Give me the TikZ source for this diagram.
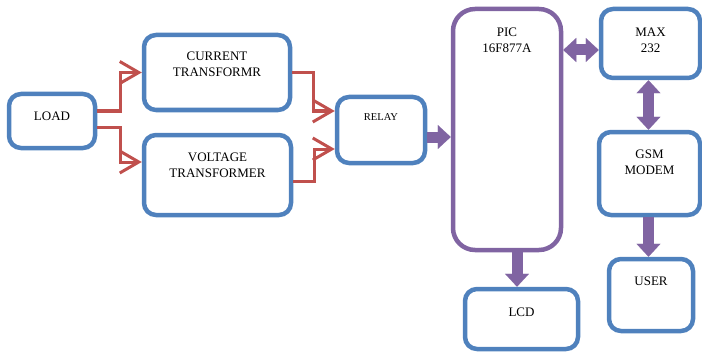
\documentclass[tikz,border=0pt]{standalone}
\usepackage{fontspec}
\setmainfont{Liberation Serif}
\usepackage{xcolor}
\usetikzlibrary{arrows.meta}
\definecolor{boxblue}{HTML}{4F81BD}
\definecolor{picpurple}{HTML}{8064A2}
\definecolor{linkred}{HTML}{C0504D}

\begin{document}
\begin{tikzpicture}[x=1pt,y=-1pt,
  blk/.style={draw=boxblue,line width=4.5pt,rounded corners=12pt,align=center,
              font=\fontsize{13}{16}\selectfont,inner sep=0pt},
  redarr/.style={linkred,line width=3pt,-{Straight Barb[length=19pt,width=22pt]}},
  busarr/.style={picpurple,line width=11pt,-{Triangle[length=13pt,width=24pt,line width=0.1pt]}},
  busdbl/.style={picpurple,line width=11pt,{Triangle[length=13pt,width=24pt,line width=0.1pt]}-{Triangle[length=13pt,width=24pt,line width=0.1pt]}}]
  \useasboundingbox (0,0) rectangle (702,353);

  \node[blk,minimum width=86pt,minimum height=54pt,text depth=10pt]   (load)  at (52,121)    {LOAD};
  \node[blk,minimum width=146pt,minimum height=75pt,text depth=17pt]  (ct)    at (217,72.5)  {CURRENT\\TRANSFORMR};
  \node[blk,minimum width=147pt,minimum height=80pt,text depth=20pt]  (vt)    at (217.5,175) {VOLTAGE\\TRANSFORMER};
  \node[blk,minimum width=88pt,minimum height=66pt,text depth=26pt,
        font=\fontsize{10.5}{13}\selectfont]                          (relay) at (381,130)   {RELAY};
  \node[blk,draw=picpurple,rounded corners=22pt,minimum width=108pt,
        minimum height=241pt,text depth=179pt]                        (pic)   at (507,129.5) {PIC\\16F877A};
  \node[blk,minimum width=99pt,minimum height=69pt,text depth=7pt]    (max)   at (650.5,43.5){MAX\\232};
  \node[blk,minimum width=101pt,minimum height=83pt,text depth=23pt]  (gsm)   at (649.5,173.5){GSM\\MODEM};
  \node[blk,minimum width=84pt,minimum height=72pt,text depth=28pt]   (user)  at (651,295)   {USER};
  \node[blk,minimum width=113pt,minimum height=60pt,text depth=14pt]  (lcd)   at (521.5,319) {LCD};

  % sensing side
  \draw[redarr] ([yshift=10pt]load.east) -- ++(23,0) |- (ct.west);
  \draw[redarr] ([yshift=-6pt]load.east) -- ++(23,0) |- ([yshift=13pt]vt.west);
  \draw[redarr] (ct.east) -- ++(21,0) |- ([yshift=19pt]relay.west);
  \draw[redarr] ([yshift=-6pt]vt.east) -- ++(21,0) |- ([yshift=-19pt]relay.west);

  % controller links
  \draw[busarr] ([yshift=-7pt]relay.east) -- ([yshift=-7pt]pic.west |- relay.east);
  \draw[busdbl] ([yshift=-6.5pt]pic.east |- max.west) -- ([yshift=-6.5pt]max.west);
  \draw[busdbl] ([xshift=-2pt]max.south) -- ([xshift=-2pt]max.south |- gsm.north);
  \draw[busarr] ([xshift=-1pt]gsm.south) -- ([xshift=-1pt]gsm.south |- user.north);
  \draw[busarr] ([xshift=10pt]pic.south) -- ([xshift=10pt]pic.south |- lcd.north);
\end{tikzpicture}
\end{document}
